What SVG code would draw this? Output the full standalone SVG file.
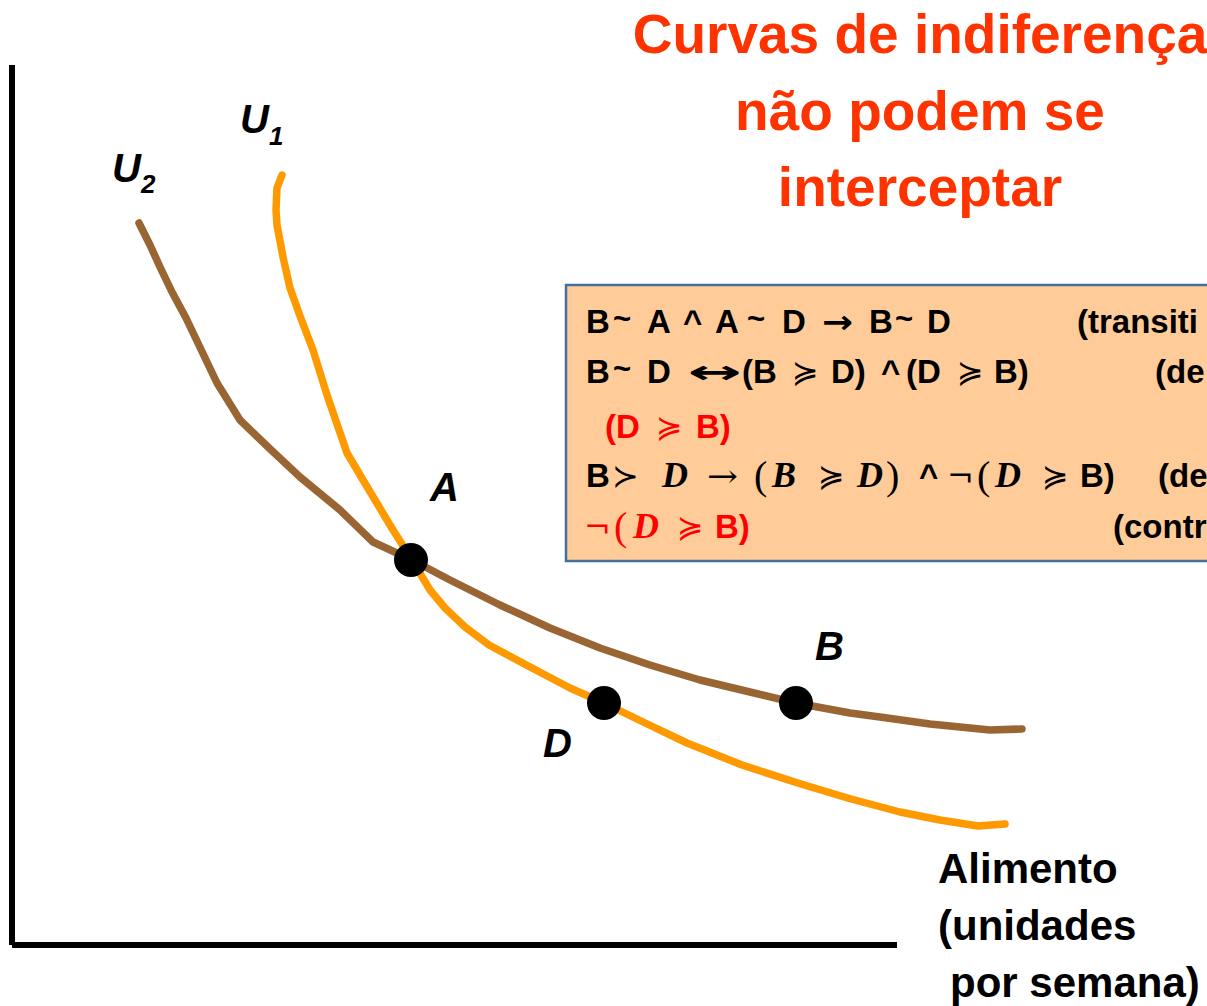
<svg xmlns="http://www.w3.org/2000/svg" width="1207" height="1006" viewBox="0 0 1207 1006">
<style>
.t{font-family:"Liberation Sans",Arial,sans-serif;font-weight:bold;}
.title{font-family:"Liberation Sans",Arial,sans-serif;font-weight:bold;font-size:55px;fill:#FF3300;text-anchor:middle;}
.bx{font-family:"Liberation Sans",Arial,sans-serif;font-weight:bold;font-size:33px;fill:#000;}
.tl{font-size:31px;}
.sym{font-family:"DejaVu Sans",sans-serif;font-weight:normal;font-size:32px;}
.arr{font-family:"DejaVu Sans",sans-serif;font-weight:bold;font-size:32px;}
.mi{font-family:"Liberation Serif","DejaVu Serif",serif;font-style:italic;font-weight:bold;font-size:36px;}
.mp{font-family:"Liberation Serif","DejaVu Serif",serif;font-weight:normal;font-size:40px;}
.ms{font-family:"DejaVu Serif",serif;font-weight:normal;font-size:32px;}
.red{fill:#FF0000;}
.lbl{font-family:"Liberation Sans",Arial,sans-serif;font-weight:bold;font-style:italic;font-size:40px;fill:#000;}
.curve{fill:none;stroke-linejoin:round;stroke-linecap:round;}
</style>
<rect width="1207" height="1006" fill="#FFFFFF"/>
<g id="axes" stroke="#000" stroke-width="6" fill="none">
<line x1="12" y1="65" x2="12" y2="945"/>
<line x1="12" y1="945" x2="897" y2="945"/>
</g>
<g id="title">
<text class="title" x="920" y="53">Curvas de indiferença</text>
<text class="title" x="920" y="130">não podem se</text>
<text class="title" x="920" y="206">interceptar</text>
</g>
<g id="connectors">
<polyline id="U2-curve" class="curve" stroke="#996633" stroke-width="7.5" points="139,223 150,245 160,267 172,292 186,318 217,383 240,420 268,447 300,477 340,510 373,542 412,560 450,580 500,605 550,628 600,648 650,665 700,680 750,692 796,703 850,713 880,717 930,724 990,730 1022,729"/>
<polyline id="U1-curve" class="curve" stroke="#FF9900" stroke-width="7.5" points="282,175 277,188 276,210 277,225 283,257 290,288 300,316 313,350 327,395 347,453 363,480 393,530 412,560 430,590 445,608 465,627 489,645 532,668 570,688 604,703 641,721 687,743 742,765 801,784 851,799 900,812 940,820 978,826 1005,824"/>
</g>
<g id="curve-labels">
<text class="lbl" x="240" y="133">U<tspan x="269" y="145" font-size="26">1</tspan></text>
<text class="lbl" x="112" y="182">U<tspan x="141" y="193" font-size="26">2</tspan></text>
</g>
<g id="node-A"><circle cx="411" cy="560" r="17" fill="#000"/><text class="lbl" x="430" y="501">A</text></g>
<g id="node-D"><circle cx="604" cy="703" r="17" fill="#000"/><text class="lbl" x="543" y="757">D</text></g>
<g id="node-B"><circle cx="796" cy="703" r="17" fill="#000"/><text class="lbl" x="815" y="660">B</text></g>
<g id="box">
<rect x="566" y="285" width="650" height="276" fill="#FFCC99" stroke="#41719C" stroke-width="2.5"/>
<!-- line 1 -->
<text class="bx" y="333"><tspan x="586">B</tspan><tspan x="647">A</tspan><tspan x="683">^</tspan><tspan x="715">A</tspan><tspan x="782">D</tspan><tspan x="869">B</tspan><tspan x="927">D</tspan><tspan x="1077">(transiti</tspan></text>
<text class="bx tl" y="329"><tspan x="613">~</tspan><tspan x="747">~</tspan><tspan x="895">~</tspan></text>
<text class="arr" x="822" y="333" textLength="31" lengthAdjust="spacingAndGlyphs">→</text>
<!-- line 2 -->
<text class="bx" y="383"><tspan x="586">B</tspan><tspan x="647">D</tspan><tspan x="742">(B</tspan><tspan x="831">D)</tspan><tspan x="881">^</tspan><tspan x="906">(D</tspan><tspan x="994">B)</tspan><tspan x="1155">(de</tspan></text>
<text class="bx tl" y="379"><tspan x="613">~</tspan></text>
<text class="sym" y="383"><tspan x="792">≽</tspan><tspan x="957">≽</tspan></text>
<text class="arr" x="688" y="383" textLength="54" lengthAdjust="spacingAndGlyphs">↔</text>
<!-- line 3 -->
<text class="bx red" y="438"><tspan x="605">(D</tspan><tspan x="696">B)</tspan></text>
<text class="sym red" x="656" y="438">≽</text>
<!-- line 4 -->
<text class="bx" y="487"><tspan x="586">B</tspan><tspan x="919">^</tspan><tspan x="1080">B)</tspan><tspan x="1158">(de</tspan></text>
<text class="sym" y="487"><tspan x="612">≻</tspan><tspan x="818">≽</tspan><tspan x="1042">≽</tspan></text>
<text class="mi" y="487"><tspan x="662">D</tspan><tspan x="772">B</tspan><tspan x="857">D</tspan><tspan x="995">D</tspan></text>
<text class="mp" y="489"><tspan x="754">(</tspan><tspan x="886">)</tspan><tspan x="977">(</tspan></text>
<text class="ms" y="487"><tspan x="947">¬</tspan></text>
<text class="ms" x="707" y="487" textLength="31" lengthAdjust="spacingAndGlyphs">→</text>
<!-- line 5 -->
<text class="ms red" x="584" y="538">¬</text>
<text class="mp red" x="614" y="540">(</text>
<text class="mi red" x="633" y="538">D</text>
<text class="sym red" x="677" y="538">≽</text>
<text class="bx red" x="715" y="538">B)</text>
<text class="bx" x="1113" y="538">(contr</text>
</g>
<g id="axis-label">
<text class="t" font-size="42" x="938" y="883">Alimento</text>
<text class="t" font-size="42" x="938" y="940">(unidades</text>
<text class="t" font-size="42" x="950" y="997">por semana)</text>
</g>
</svg>
